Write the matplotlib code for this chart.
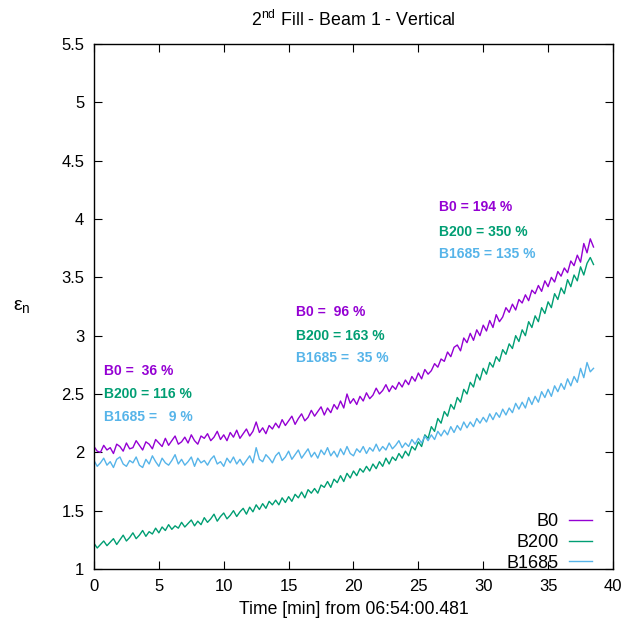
import numpy as np
import matplotlib
matplotlib.use("Agg")
import matplotlib.pyplot as plt

plt.rcParams['font.family'] = ['Liberation Sans', 'DejaVu Sans']
plt.rcParams['mathtext.fontset'] = 'custom'
plt.rcParams['mathtext.rm'] = 'Liberation Sans'
plt.rcParams['mathtext.it'] = 'Liberation Sans:italic'

# sampling: one reading every 15 s, minutes from 06:54:00.481
time_min = np.arange(155) * 0.25

b0 = [
    2.05, 2.01, 2.00, 2.06, 2.02, 2.04, 1.99, 2.07, 2.05, 2.01, 2.08, 2.03,
    2.04, 2.10, 2.06, 2.02, 2.09, 2.07, 2.03, 2.11, 2.08, 2.05, 2.12, 2.06,
    2.10, 2.14, 2.07, 2.09, 2.13, 2.08, 2.15, 2.10, 2.07, 2.14, 2.12, 2.16,
    2.10, 2.13, 2.18, 2.11, 2.15, 2.10, 2.17, 2.13, 2.19, 2.12, 2.16, 2.20,
    2.14, 2.18, 2.26, 2.17, 2.21, 2.16, 2.23, 2.20, 2.25, 2.21, 2.28, 2.23,
    2.27, 2.31, 2.24, 2.29, 2.33, 2.27, 2.30, 2.36, 2.31, 2.35, 2.39, 2.32,
    2.38, 2.34, 2.41, 2.37, 2.44, 2.38, 2.50, 2.42, 2.46, 2.41, 2.48, 2.44,
    2.51, 2.46, 2.49, 2.55, 2.50, 2.53, 2.58, 2.52, 2.57, 2.54, 2.60, 2.56,
    2.62, 2.58, 2.65, 2.61, 2.68, 2.63, 2.71, 2.67, 2.70, 2.76, 2.73, 2.80,
    2.78, 2.86, 2.82, 2.90, 2.92, 2.87, 2.98, 2.94, 3.02, 2.96, 3.05, 3.00,
    3.09, 3.04, 3.13, 3.07, 3.18, 3.12, 3.16, 3.24, 3.20, 3.27, 3.22, 3.31,
    3.28, 3.35, 3.30, 3.39, 3.36, 3.43, 3.38, 3.47, 3.42, 3.50, 3.46, 3.55,
    3.51, 3.58, 3.54, 3.64, 3.60, 3.69, 3.63, 3.79, 3.71, 3.83, 3.76,
]

b200 = [
    1.22, 1.18, 1.21, 1.24, 1.20, 1.23, 1.26, 1.21, 1.25, 1.29, 1.24, 1.27,
    1.31, 1.26, 1.29, 1.33, 1.28, 1.32, 1.30, 1.35, 1.31, 1.36, 1.33, 1.38,
    1.34, 1.37, 1.35, 1.40, 1.36, 1.39, 1.42, 1.37, 1.41, 1.38, 1.44, 1.40,
    1.43, 1.47, 1.41, 1.45, 1.48, 1.43, 1.46, 1.50, 1.45, 1.49, 1.52, 1.47,
    1.53, 1.49, 1.55, 1.51, 1.56, 1.52, 1.58, 1.55, 1.59, 1.55, 1.61, 1.57,
    1.62, 1.58, 1.64, 1.61, 1.66, 1.61, 1.68, 1.65, 1.69, 1.65, 1.72, 1.70,
    1.75, 1.70, 1.77, 1.74, 1.80, 1.75, 1.82, 1.78, 1.84, 1.80, 1.86, 1.83,
    1.88, 1.84, 1.90, 1.86, 1.92, 1.88, 1.95, 1.90, 1.96, 1.93, 1.99, 1.95,
    2.01, 1.97, 2.05, 2.02, 2.09, 2.05, 2.15, 2.12, 2.22, 2.18, 2.29, 2.25,
    2.35, 2.31, 2.41, 2.37, 2.47, 2.43, 2.54, 2.50, 2.60, 2.56, 2.67, 2.62,
    2.72, 2.67, 2.77, 2.73, 2.82, 2.78, 2.88, 2.84, 2.93, 2.89, 3.00, 2.95,
    3.05, 3.00, 3.12, 3.07, 3.17, 3.12, 3.24, 3.19, 3.29, 3.24, 3.36, 3.31,
    3.41, 3.36, 3.48, 3.42, 3.52, 3.47, 3.59, 3.52, 3.62, 3.67, 3.61,
]

b1685 = [
    1.93, 1.88, 1.91, 1.95, 1.89, 1.92, 1.87, 1.94, 1.96, 1.90, 1.88, 1.93,
    1.91, 1.96, 1.89, 1.87, 1.94, 1.90, 1.97, 1.92, 1.88, 1.95, 1.91, 1.89,
    1.93, 1.98, 1.90, 1.94, 1.89, 1.92, 1.96, 1.88, 1.95, 1.91, 1.93, 1.89,
    1.94, 1.97, 1.90, 1.92, 1.88, 1.95, 1.91, 1.96, 1.90, 1.94, 1.89, 1.93,
    1.97, 1.91, 2.04, 1.94, 1.92, 1.98, 1.95, 1.91, 1.97, 2.00, 1.93, 1.96,
    2.01, 1.94, 1.98, 2.02, 1.95, 1.99, 2.03, 1.96, 2.00, 1.95, 2.02, 1.98,
    2.04, 1.97, 2.01, 1.96, 2.03, 1.98, 2.05, 1.99, 1.97, 2.03, 2.00, 2.05,
    1.99, 2.04, 2.01, 2.07, 2.01, 2.05, 2.02, 2.08, 2.03, 2.06, 2.10, 2.04,
    2.08, 2.05, 2.11, 2.07, 2.12, 2.08, 2.14, 2.10, 2.15, 2.11, 2.18, 2.14,
    2.19, 2.15, 2.22, 2.17, 2.23, 2.19, 2.26, 2.21, 2.26, 2.22, 2.29, 2.25,
    2.30, 2.26, 2.33, 2.28, 2.34, 2.30, 2.37, 2.32, 2.38, 2.34, 2.42, 2.37,
    2.43, 2.38, 2.47, 2.41, 2.48, 2.43, 2.52, 2.47, 2.54, 2.48, 2.57, 2.52,
    2.59, 2.54, 2.63, 2.57, 2.65, 2.60, 2.72, 2.64, 2.77, 2.69, 2.72,
]

series_names = ["B0", "B200", "B1685"]
series_colors = ["#9400d3", "#009e73", "#56b4e9"]

# emittance growth quoted at three moments of the fill
growth_labels = [
    ["B0 =  36 %", "B200 = 116 %", "B1685 =   9 %"],
    ["B0 =  96 %", "B200 = 163 %", "B1685 =  35 %"],
    ["B0 = 194 %", "B200 = 350 %", "B1685 = 135 %"],
]
label_x = [0.75, 15.6, 26.6]
label_y = [[2.70, 2.50, 2.30], [3.20, 3.00, 2.81], [4.10, 3.89, 3.70]]

x_ticks = np.arange(0, 41, 5)
y_ticks = np.arange(1.0, 5.51, 0.5)
y_ticklabels = ["1", "1.5", "2", "2.5", "3", "3.5", "4", "4.5", "5", "5.5"]

fig = plt.figure(figsize=(6.22, 6.25), dpi=100)
ax = fig.add_axes([0.1511, 0.0896, 0.8344, 0.840])

for vals, name, col in zip([b0, b200, b1685], series_names, series_colors):
    ax.plot(time_min, vals, color=col, lw=1.0, label=name)

for gx, labels, ys in zip(label_x, growth_labels, label_y):
    for txt, yy, col in zip(labels, ys, series_colors):
        ax.text(gx, yy, txt, color=col, fontsize=10, fontweight="bold",
                ha="left", va="center")

ax.set_xlim(0, 40)
ax.set_ylim(1, 5.5)
ax.set_xticks(x_ticks)
ax.set_xticklabels([str(v) for v in x_ticks])
ax.set_yticks(y_ticks)
ax.set_yticklabels(y_ticklabels)
ax.tick_params(direction="in", length=6, width=0.8, top=True, right=True,
               labelsize=12, pad=7, colors="black")
for s in ax.spines.values():
    s.set_linewidth(1.0)

ax.set_title("2$^{\\mathregular{nd}}$ Fill - Beam 1 - Vertical", fontsize=12.8, pad=13)
ax.set_xlabel("Time [min] from 06:54:00.481", fontsize=12.7, labelpad=5)
ax.set_ylabel("ε$_{\\mathregular{n}}$", fontsize=14, rotation=0, labelpad=28, va="center")

ax.legend(loc="lower right", bbox_to_anchor=(0.9595, -0.005), frameon=False,
          markerfirst=False, fontsize=13, handlelength=1.25, handletextpad=0.6,
          labelspacing=0.2, borderaxespad=0.0, borderpad=0.0)

fig.savefig("out.png", dpi=100)
